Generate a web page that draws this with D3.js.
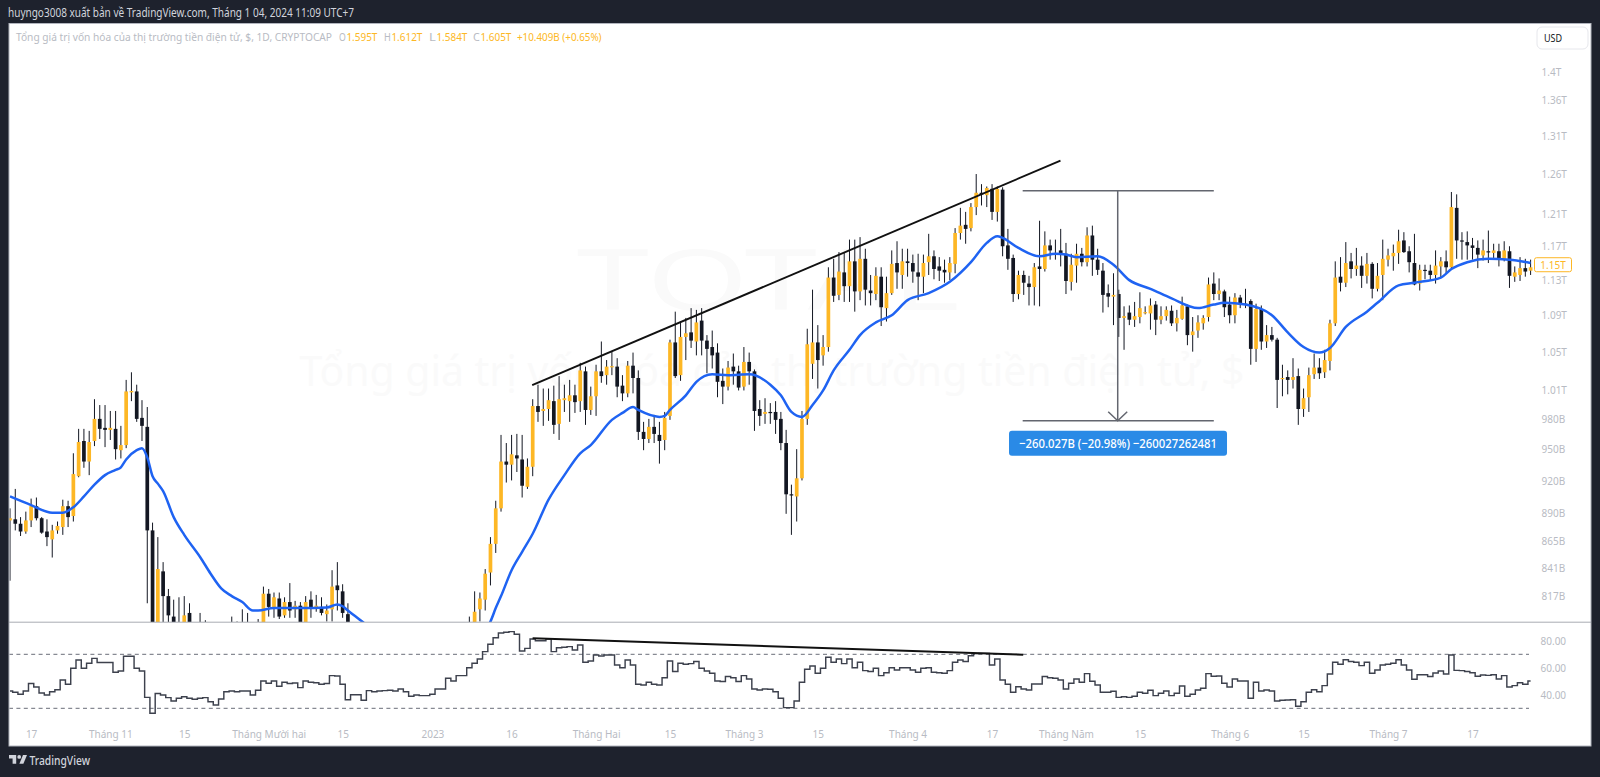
<!DOCTYPE html>
<html lang="vi">
<head>
<meta charset="utf-8">
<title>TOTAL</title>
<script src="https://cdnjs.cloudflare.com/ajax/libs/d3/7.8.5/d3.min.js"></script>
<style>
html,body{margin:0;padding:0;background:#1e222d;overflow:hidden}
svg{display:block}
text{font-family:"Noto Sans","Open Sans",sans-serif}
</style>
</head>
<body>
<svg id="c" width="1600" height="777"></svg>
<script>
// Daily candles, values in billions USD. First candle is 2022-10-13.
const startDate = "2022-10-13";
const opens = [
883,884,880,873,883,896,885,873,866,874,
877,896,887,924,958,938,958,980,971,969,
970,949,954,1007,1008,981,972,874,785,838,
817,800,785,790,803,785,780,790,785,780,
786,782,788,785,790,785,790,785,790,819,
807,815,801,812,806,809,792,814,807,808,
802,806,826,821,802,790,775,780,772,778,
776,780,775,770,774,768,772,767,770,765,
768,771,774,777,780,783,781,786,793,806,
814,837,862,894,938,935,944,940,914,933,
993,988,990,998,975,999,998,1004,998,1029,
989,1003,1029,1025,1034,1034,1014,1006,1035,1022,
967,960,972,964,959,983,1060,1025,1066,1071,
1061,1084,1062,1055,1049,1019,1013,1034,1029,1013,
1039,1029,990,985,987,987,980,956,907,905,
922,980,1037,1060,1046,1055,1133,1113,1139,1123,
1152,1117,1155,1118,1114,1134,1098,1115,1150,1136,
1152,1150,1139,1134,1151,1158,1146,1142,1139,1149,
1186,1196,1192,1218,1236,1233,1241,1212,1240,1171,
1156,1114,1136,1126,1122,1146,1143,1171,1161,1165,
1161,1128,1147,1161,1151,1183,1154,1141,1115,1111,
1114,1087,1093,1085,1088,1093,1092,1102,1085,1089,
1095,1081,1086,1100,1068,1073,1081,1088,1126,1114,
1117,1102,1090,1110,1103,1106,1053,1097,1061,1068,
1063,1021,1023,1020,1024,990,1002,1026,1033,1028,
1040,1081,1134,1127,1152,1143,1147,1135,1149,1120,
1136,1154,1158,1162,1177,1164,1150,1126,1142,1141,
1136,1146,1152,1145,1217,1177,1175,1171,1168,1159,
1164,1162,1164,1154,1164,1134,1136,1144,1141];
const highs = [
894,912,886,891,903,904,886,884,879,882,
902,901,946,970,970,968,1000,994,994,988,
988,973,1020,1028,1015,999,992,881,868,846,
823,814,816,817,811,793,803,797,792,790,
792,792,800,796,806,803,794,798,825,823,
820,820,816,828,813,812,817,821,818,816,
810,839,846,827,811,793,785,788,782,786,
784,787,783,778,781,776,779,775,777,773,
776,778,781,784,786,789,790,800,821,820,
840,868,901,964,956,964,965,964,941,1000,
1015,1011,1011,1014,1024,1015,1020,1015,1038,1034,
1013,1036,1061,1041,1050,1043,1025,1040,1049,1030,
977,980,984,977,987,1063,1094,1083,1087,1098,
1096,1098,1068,1073,1059,1032,1040,1048,1035,1055,
1049,1031,999,1001,996,998,987,969,916,950,
988,1075,1119,1079,1068,1145,1155,1163,1163,1178,
1178,1181,1167,1136,1145,1145,1134,1165,1176,1167,
1167,1160,1161,1160,1185,1165,1157,1154,1157,1192,
1217,1212,1223,1260,1247,1244,1247,1244,1243,1191,
1160,1141,1141,1135,1150,1201,1188,1178,1178,1191,
1174,1161,1173,1168,1193,1195,1167,1150,1125,1138,
1119,1100,1101,1105,1116,1100,1109,1106,1100,1100,
1101,1096,1111,1102,1088,1090,1090,1133,1139,1132,
1119,1111,1115,1113,1120,1108,1103,1101,1079,1077,
1065,1036,1030,1043,1032,1011,1033,1048,1043,1052,
1085,1152,1157,1175,1162,1168,1158,1162,1151,1150,
1178,1167,1172,1190,1187,1170,1185,1148,1148,1148,
1165,1157,1165,1237,1234,1187,1188,1180,1177,1178,
1189,1173,1173,1176,1170,1146,1157,1155,1154];
const lows = [
830,874,869,871,877,883,871,860,850,871,
870,877,882,923,932,925,953,960,952,959,
940,941,951,998,977,958,811,770,775,790,
785,770,770,775,780,770,770,775,778,775,
778,775,778,775,780,778,780,778,785,800,
799,798,799,799,799,785,788,799,804,801,
796,796,805,799,780,770,765,770,765,772,
768,774,768,762,766,760,765,760,763,758,
762,765,768,771,774,777,775,780,790,796,
805,826,854,891,918,920,928,904,912,924,
977,973,978,965,959,987,977,986,987,974,
984,983,1017,1015,1025,1002,998,1002,1006,959,
949,956,956,936,949,979,1022,1019,1041,1054,
1046,1046,1027,1032,1002,995,1009,1015,1009,1009,
1015,968,973,975,975,965,949,889,870,882,
920,974,1021,1011,1035,1050,1105,1107,1105,1105,
1094,1107,1101,1101,1107,1078,1083,1113,1120,1120,
1134,1127,1107,1115,1136,1131,1129,1127,1130,1138,
1178,1173,1188,1208,1220,1218,1202,1200,1158,1142,
1105,1108,1113,1101,1101,1100,1140,1154,1154,1146,
1114,1118,1127,1146,1146,1135,1136,1093,1099,1079,
1066,1052,1079,1077,1081,1091,1074,1068,1080,1084,
1078,1072,1085,1057,1050,1065,1074,1083,1107,1107,
1088,1081,1081,1098,1098,1036,1039,1052,1054,1061,
991,1003,1005,1011,974,982,987,1021,1021,1022,
1030,1078,1117,1122,1132,1135,1121,1126,1109,1117,
1107,1146,1141,1149,1162,1139,1124,1118,1131,1130,
1126,1133,1138,1144,1155,1154,1154,1154,1144,1153,
1150,1156,1146,1152,1121,1128,1129,1134,1136];
const closes = [
885,880,873,883,896,885,872,868,874,878,
896,886,926,957,938,957,980,970,969,971,
950,954,1008,1008.5,980,973,874,785,840,817,
801,782,792,801,785,780,790,785,780,786,
782,788,785,790,785,790,785,792,819,808,
816,800,812,805,809,792,812,807,809,803,
805,825,822,803,790,775,780,772,778,776,
780,775,770,774,768,772,767,770,765,768,
771,774,777,780,783,781,786,793,804,815,
836,862,894,938,935,945,941,915,933,993,
987,990,999,974,1000,1001,1004,997,1030,989,
1003,1029,1024,1034,1034.5,1013,1006,1035,1022,967,
960,972,965,958,981,1060,1024,1066,1070,1062,
1082,1062,1053,1046,1018,1013,1033,1029,1012,1039,
1029,988,983,987,986,979,956,907,906,922,
980,1058,1060,1041,1055,1133,1112,1140,1123,1152,
1117,1155,1119,1115,1135,1099,1115,1149,1139,1152,
1150,1140,1134,1150,1158,1143,1141,1139,1150,1186,
1195,1191,1218,1236,1234,1242,1212,1241,1170,1155,
1114,1136,1127,1122,1145,1143,1171,1165,1162,1160,
1129,1148,1161,1151,1183,1154,1142,1113,1111,1113,
1087,1089,1085,1089,1098,1093.5,1101,1085,1089,1096,
1081,1087,1101,1068,1072,1082,1087,1125,1114,1118,
1099,1090,1110,1103,1102.5,1053,1097,1061,1068,1063,
1020,1022,1020,1023,990,1001,1025,1033,1027,1041,
1081,1133,1127,1150,1143,1147,1135,1149,1120,1135,
1155,1159,1162,1176,1163,1151,1125,1142,1141.5,1136,
1147,1152,1145,1218,1177,1176,1171,1168,1160,1165,
1163.5,1165,1154,1165,1135,1139,1144,1140,1145];

// Moving average, read at these candle numbers.
const maIndex = [0,4,8,10,12,14,16,18,20,21,22,24,25,26,27,28,29,31,33,36,38,40,42,44,46,47,50,55,60,62,63,64,67,70,75,80,85,89,91,92,93,95,97,99,
102,105,108,110,114,116,118,119,123,124,125,128,130,133,136,140,144,146,148,150,152,154,156,159,161,164,167,170,174,178,182,185,187,188,191,195,198,200,202,206,209,212,216,220,225,228,230,234,239,242,245,248,250,253,257,259,263,266,271,273,276,280,284,288];
const maValue = [905,897,890,890,895,905,916,925,930,932.5,940,949,951,942,924,917,910,886,870,850.5,836,823.5,817,812,805,805,807,807,807.5,810,808.5,805,795,785,772,770,775,785,796,807,817,839,855,871,
902,925,946,954,979,986,992,989,982,983,989,1004,1018,1026,1025,1026,1015,1004,987,982,994,1009,1030,1052,1068,1082,1090,1107,1115,1128,1151,1174,1182,1180,1168,1158,1161,1160,1157,1158,1148,1130,1120,1109,1098,1102,1104,1102,1090,1071,1055,1049,1054,1077,1094,1104,1124,1127,1133,1143,1151,1155,1154,1150];

// RSI, one value per candle.
const rsi = [
42.8,41.9,40.4,42.8,48.3,45.8,41.4,39.9,42.3,43.8,
51,47.8,59.6,65.8,59.6,63.3,67,64,64,64,
56.7,57.7,68.5,68.5,59.6,57.7,38.1,26.3,40.9,39.9,
37.9,35.4,37.4,38.6,37.4,36.7,37.4,37.9,34.9,32.5,
36.9,42.3,42.8,42.3,42.8,42.8,39.9,43.3,50.2,48.5,
50.2,46.3,49.3,48.3,48.8,45.3,50.2,49.3,49,47.8,
48.3,54.2,54,47.8,36.4,40.1,40.1,35.9,43.1,42.3,
42.8,43.1,43.3,42.8,44.3,42.3,38.9,39.9,39.4,39.4,
40.4,44.3,44.3,52.2,50.2,54.2,54.2,60.1,63.3,66.5,
72,77.4,82.3,85.8,86.3,86.8,84.8,72.5,74.4,81.4,
80.1,80.1,81.4,72,74.9,75.2,75.7,73.2,76.9,64.1,
65.1,69.5,68.8,69.5,69.5,62.1,60.1,65.8,62.1,47.8,
47.3,49.3,47.8,47.3,52.7,65.1,57.2,63.3,62.6,63.1,
64.6,59.6,57.7,55.9,50.2,49.8,53.5,52.7,49.8,54.2,
51.7,44.3,43.6,44.3,44.1,42.3,37.4,30.5,30.5,35.4,
49.3,58.9,61.4,55.9,59.6,67.8,64.1,66.5,63.1,66.5,
60.1,64.1,57.9,57.2,59.6,54.2,56.4,60.1,58.4,60.1,
60.1,58.4,56.7,59.6,60.1,56.7,56.4,55.9,57.9,64.1,
65.8,64.6,69,70.5,70.7,70.7,62.1,66.5,51,47.8,
41.9,46,44.3,43.6,48,48,53.5,52.7,52.2,51,
44.3,48.5,51.7,49.3,55.7,50,47.3,41.9,41.9,42.6,
38.1,38.6,38.1,38.9,41.9,41.1,43.3,39.4,41.1,42.8,
39.4,41.1,46.5,38.9,40.4,43.6,44.8,55.7,53.7,54,
48.5,45.8,51.7,50.2,50.2,37.4,49.3,42.8,43.6,42.8,
35.4,35.9,36.2,36.4,31.5,34.9,41.9,43.8,42.3,46.8,
55.4,64.1,62.6,66,64.6,64.1,61.6,64.1,55.9,58.4,
62.1,62.6,63.3,66,62.1,58.4,51.5,54.9,54.9,53.5,
56.2,57.7,55.4,69.5,58.1,57.9,57.2,56.4,53.7,54.7,
54.4,54.9,51.7,54.2,45.8,46.8,49,47.8,50.2];

// Axis ticks
const priceTicks = [1400,1360,1310,1260,1210,1170,1130,1090,1050,1010,980,950,920,890,865,841,817];
const rsiTicks = [80,60,40];
const rsiBands = [70,30];
const timeTickDates = ["2022-10-17","2022-11-01","2022-11-15","2022-12-01","2022-12-15","2023-01-01","2023-01-16","2023-02-01","2023-02-15","2023-03-01","2023-03-15","2023-04-01","2023-04-17","2023-05-01","2023-05-15","2023-06-01","2023-06-15","2023-07-01","2023-07-17"];
const timeTickLabels = ["17","Tháng 11","15","Tháng Mười hai","15","2023","16","Tháng Hai","15","Tháng 3","15","Tháng 4","17","Tháng Năm","15","Tháng 6","15","Tháng 7","17"];

// Drawings, in candle number and value
const trendPrice = [[98.9,1014.6],[198.96,1277.4]];
const trendRsi = [[98.98,81.9],[191.9,69.7]];
const measureLeft = 191.8, measureRight = 228, measureMid = 209.8;
const measureTop = 1238.5, measureBottom = 978.1;
const lastLabelValue = 1148;

// Texts
const headerText = "huyngo3008 xuất bản về TradingView.com, Tháng 1 04, 2024 11:09 UTC+7";
const legendName = "Tổng giá trị vốn hóa của thị trường tiền điện tử, $, 1D, CRYPTOCAP";
const legendOHLC = [["O","1.595T"],["H","1.612T"],["L","1.584T"],["C","1.605T"]];
const legendChange = "+10.409B (+0.65%)";
const measureText = "−260.027B (−20.98%) −260027262481";
const wmSymbol = "TOTAL";
const wmName = "Tổng giá trị vốn hóa của thị trường tiền điện tử, $";

const GOLD = "#fdb725", DARK = "#131722", AXIS = "#b8bbc3", FRAME = "#1e222d";
const svg = d3.select("#c");
const n = opens.length;
const x = d3.scaleLinear().domain([0, 288]).range([10, 1530.6]);
const y = d3.scaleLog().domain([1400, 797.2]).range([71.4, 620]);
const yR = d3.scaleLinear().domain([80, 40]).range([640.8, 694.8]);
const t0 = new Date(startDate + "T00:00:00Z");
const dayOf = s => d3.utcDay.count(t0, new Date(s + "T00:00:00Z"));

// Noto Sans is wider than the reference face: narrow each text to match
const narrow = (sel, f) => sel.each(function(){
  const len = this.getComputedTextLength();
  d3.select(this).attr("textLength", len*f).attr("lengthAdjust","spacingAndGlyphs");
});

// Frame
svg.append("rect").attr("width",1600).attr("height",777).attr("fill",FRAME);
svg.append("rect").attr("x",9).attr("y",23.5).attr("width",1582).attr("height",722.5)
  .attr("fill","#fff").attr("stroke","#b2b5be").attr("stroke-width",1);

const defs = svg.append("defs");
defs.append("clipPath").attr("id","top").append("rect").attr("x",9.5).attr("y",24).attr("width",1581).attr("height",598);
defs.append("clipPath").attr("id","bot").append("rect").attr("x",9.5).attr("y",623).attr("width",1581).attr("height",105);

// Header
svg.append("text").attr("x",8).attr("y",17).attr("font-size",12.5).attr("fill","#d1d4dc")
  .attr("textLength",346).attr("lengthAdjust","spacingAndGlyphs").text(headerText);

// Watermark
const wm = svg.append("g").attr("fill","#fafafa").attr("text-anchor","middle");
wm.append("text").attr("x",768).attr("y",310).attr("font-size",84).attr("textLength",383).attr("lengthAdjust","spacingAndGlyphs").text(wmSymbol);
wm.append("text").attr("x",772).attr("y",386).attr("font-size",41).attr("textLength",945).attr("lengthAdjust","spacingAndGlyphs").text(wmName);

// Legend
const lg = svg.append("g").attr("font-size",11.5);
lg.append("text").attr("x",16).attr("y",40.5).attr("font-size",10.4).attr("fill",AXIS).attr("textLength",316).attr("lengthAdjust","spacingAndGlyphs").text(legendName);
const lgX = [339,384,429,473];
legendOHLC.forEach((d,i)=>{
  lg.append("text").attr("x",lgX[i]).attr("y",40.5).attr("fill",AXIS).attr("textLength",6.8).attr("lengthAdjust","spacingAndGlyphs").text(d[0]);
  lg.append("text").attr("x",lgX[i]+7.4).attr("y",40.5).attr("fill",GOLD).attr("textLength",31).attr("lengthAdjust","spacingAndGlyphs").text(d[1]);
});
lg.append("text").attr("x",517).attr("y",40.5).attr("fill",GOLD).attr("textLength",84.5).attr("lengthAdjust","spacingAndGlyphs").text(legendChange);

// Price pane
const pricePane = svg.append("g").attr("clip-path","url(#top)");
const data = d3.range(n).map(i=>({i,o:opens[i],h:highs[i],l:lows[i],c:closes[i]}));
pricePane.append("g").selectAll("line").data(data).join("line")
  .attr("x1",d=>x(d.i)).attr("x2",d=>x(d.i))
  .attr("y1",d=>y(d.h)).attr("y2",d=>y(d.l))
  .attr("stroke",DARK).attr("stroke-width",1);
pricePane.append("g").selectAll("rect").data(data).join("rect")
  .attr("x",d=>x(d.i)-1.85).attr("width",3.7)
  .attr("y",d=>y(Math.max(d.o,d.c)))
  .attr("height",d=>Math.max(1.2,Math.abs(y(d.o)-y(d.c))))
  .attr("fill",d=>d.c>=d.o?GOLD:DARK);
pricePane.append("path").datum(d3.zip(maIndex,maValue))
  .attr("fill","none").attr("stroke","#1f63f2").attr("stroke-width",2.5)
  .attr("d",d3.line().x(d=>x(d[0])).y(d=>y(d[1])).curve(d3.curveMonotoneX));

const drawLine = d3.line().x(d=>x(d[0])).y(d=>y(d[1]));
pricePane.append("path").attr("d",drawLine(trendPrice)).attr("stroke","#111").attr("stroke-width",1.9).attr("fill","none");

// Measure tool
const mcol = "#63666f";
const measure = pricePane.append("g").attr("stroke",mcol).attr("stroke-width",1.5).attr("fill","none");
measure.append("line").attr("x1",x(measureLeft)).attr("x2",x(measureRight)).attr("y1",y(measureTop)).attr("y2",y(measureTop));
measure.append("line").attr("x1",x(measureLeft)).attr("x2",x(measureRight)).attr("y1",y(measureBottom)).attr("y2",y(measureBottom));
measure.append("line").attr("x1",x(measureMid)).attr("x2",x(measureMid)).attr("y1",y(measureTop)).attr("y2",y(measureBottom));
measure.append("path").attr("d",d3.line()([[x(measureMid)-9.5,y(measureBottom)-9],[x(measureMid),y(measureBottom)],[x(measureMid)+9.5,y(measureBottom)-9]]));
const box = pricePane.append("g").attr("transform",`translate(${x(measureMid)},${y(measureBottom)+22.5})`);
box.append("rect").attr("x",-108.7).attr("y",-12.5).attr("width",218).attr("height",25).attr("rx",3).attr("fill","#2a8ae6");
box.append("text").attr("x",0.3).attr("y",4.6).attr("text-anchor","middle").attr("fill","#fff").attr("font-size",13).attr("font-weight",500)
  .attr("textLength",198).attr("lengthAdjust","spacingAndGlyphs").text(measureText);

// Pane separator
svg.append("line").attr("x1",9).attr("x2",1591).attr("y1",622.2).attr("y2",622.2).attr("stroke","#a9abb3").attr("stroke-width",1);

// RSI pane
const rsiPane = svg.append("g").attr("clip-path","url(#bot)");
rsiPane.append("g").selectAll("line").data(rsiBands).join("line")
  .attr("x1",9).attr("x2",1529).attr("y1",d=>yR(d)).attr("y2",d=>yR(d))
  .attr("stroke","#6a6d78").attr("stroke-width",1).attr("stroke-dasharray","4 3.4");
rsiPane.append("path").datum(rsi).attr("fill","none").attr("stroke","#3d414d").attr("stroke-width",1.45)
  .attr("d",d3.line().x((d,i)=>x(i)).y(d=>yR(d)).curve(d3.curveStep));
rsiPane.append("path").attr("stroke","#111").attr("stroke-width",1.9).attr("fill","none")
  .attr("d",d3.line().x(d=>x(d[0])).y(d=>yR(d[1]))(trendRsi));

// Axes
const styleAxis = (g,anchor)=>{
  g.select(".domain").remove();
  g.selectAll("line").remove();
  g.selectAll("text").attr("fill",AXIS).attr("font-size",11.5)
    .attr("font-family",'"Noto Sans","Open Sans",sans-serif').attr("text-anchor",anchor);
  narrow(g.selectAll("text"),0.87);
};
const fmtPrice = v => v>=1000 ? (v/1000)+"T" : v+"B";
svg.append("g").attr("transform","translate(1541.5,0)")
  .call(d3.axisRight(y).tickValues(priceTicks).tickFormat(fmtPrice).tickSize(0).tickPadding(0))
  .call(g=>styleAxis(g,"start"));
svg.append("g").attr("transform","translate(1540.5,0)")
  .call(d3.axisRight(yR).tickValues(rsiTicks).tickFormat(d3.format(".2f")).tickSize(0).tickPadding(0))
  .call(g=>styleAxis(g,"start"));
const timeIdx = timeTickDates.map(dayOf);
svg.append("g").attr("transform","translate(0,727)")
  .call(d3.axisBottom(x).tickValues(timeIdx).tickFormat((d,i)=>timeTickLabels[i]).tickSize(0).tickPadding(3))
  .call(g=>styleAxis(g,"middle"));

// Last value label
const lv = svg.append("g").attr("transform",`translate(1534.5,${y(lastLabelValue)})`);
lv.append("rect").attr("y",-7).attr("width",37).attr("height",14).attr("rx",2).attr("fill","#fff").attr("stroke",GOLD);
lv.append("text").attr("x",18.5).attr("y",4).attr("text-anchor","middle").attr("font-size",11.5).attr("fill",GOLD).text(fmtPrice(1150)).call(narrow,0.87);

// Currency button
svg.append("rect").attr("x",1537).attr("y",27).attr("width",51).attr("height",22).attr("rx",5).attr("fill","#fff").attr("stroke","#e6e7ec");
svg.append("text").attr("x",1553).attr("y",42).attr("text-anchor","middle").attr("font-size",11).attr("fill",DARK).text("USD").call(narrow,0.82);

// Brand
const brand = svg.append("g").attr("transform","translate(9,755)").attr("fill","#d1d4dc");
brand.append("path").attr("d","M0 0H7.2V8.8H3.6V3.6H0Z");
brand.append("circle").attr("cx",10.2).attr("cy",1.9).attr("r",1.9);
brand.append("path").attr("d","M14 0H18L14.4 8.8H10.4Z");
svg.append("text").attr("x",29.5).attr("y",764.5).attr("font-size",12.5).attr("font-weight",500).attr("fill","#d1d4dc")
  .attr("textLength",60.5).attr("lengthAdjust","spacingAndGlyphs").text("TradingView");
</script>
</body>
</html>
